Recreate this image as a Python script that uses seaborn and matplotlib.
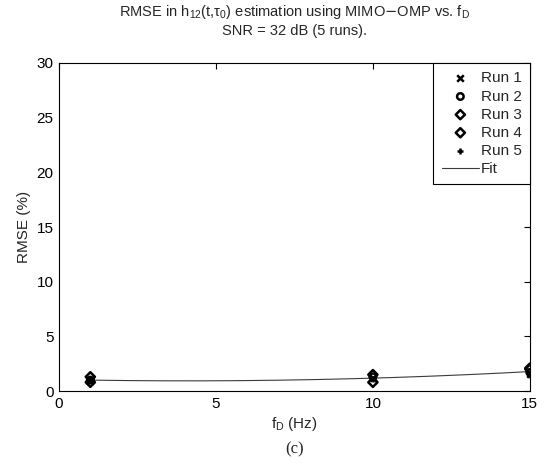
import numpy as np
import pandas as pd
import matplotlib
matplotlib.use("Agg")
import matplotlib.pyplot as plt
import seaborn as sns

# Doppler frequencies (Hz) and RMSE (%) per run
fd = [1, 10, 15]
run1 = [0.9, 1.2, 1.6]
run2 = [1.0, 1.3, 1.7]
run3 = [1.3, 1.5, 2.1]
run4 = [0.8, 0.8, 2.0]
run5 = [1.0, 1.1, 1.5]
runs = [run1, run2, run3, run4, run5]
run_names = ["Run 1", "Run 2", "Run 3", "Run 4", "Run 5"]
markers = ["x", "o", "D", "D", "+"]

sns.set_theme(style="white")
plt.rcParams["font.family"] = ["Liberation Sans", "DejaVu Sans"]

fig = plt.figure(figsize=(5.56, 4.70), dpi=100)
ax = fig.add_axes([0.106, 0.168, 0.847, 0.698])

for vals, name, mk in zip(runs, run_names, markers):
    df = pd.DataFrame({"fd": fd, "rmse": vals})
    if mk in ("o", "D"):
        sns.scatterplot(data=df, x="fd", y="rmse", marker=mk, s=22,
                        facecolor="none", edgecolor="black", linewidth=1.8,
                        label=name, ax=ax, zorder=3)
    else:
        sns.scatterplot(data=df, x="fd", y="rmse", marker=mk, s=22,
                        color="black", linewidth=1.8,
                        label=name, ax=ax, zorder=3)

# quadratic fit through all runs
xs = np.concatenate([fd] * len(runs))
ys = np.concatenate(runs)
coef = np.polyfit(xs, ys, 2)
xfit = np.linspace(1, 15, 200)
fit_df = pd.DataFrame({"fd": xfit, "rmse": np.polyval(coef, xfit)})
sns.lineplot(data=fit_df, x="fd", y="rmse", color="#3a3a3a", linewidth=0.8,
             label="Fit", ax=ax, zorder=2)

ax.set_xlim(0, 15)
ax.set_ylim(0, 30)
ax.set_xticks([0, 5, 10, 15])
ax.set_yticks([0, 5, 10, 15, 20, 25, 30])
ax.tick_params(direction="in", length=4, width=0.8, top=True, right=True,
               labelsize=11, colors="black", pad=4)
for sp in ax.spines.values():
    sp.set_color("black")
    sp.set_linewidth(0.8)

ax.set_xlabel(r"f$_\mathregular{D}$ (Hz)", fontsize=11, labelpad=3)
ax.set_ylabel("RMSE (%)", fontsize=11, labelpad=4)
ax.set_title(r"RMSE in h$_\mathregular{12}$(t,$\mathregular{\tau}_\mathregular{0}$) estimation using MIMO$-$OMP vs. f$_\mathregular{D}$"
             "\nSNR = 32 dB (5 runs).", fontsize=10.5, linespacing=1.25, pad=20)

leg = ax.legend(loc="upper right", fontsize=11, frameon=True, fancybox=False,
                edgecolor="black", borderaxespad=0.0, handlelength=2.45,
                labelspacing=0.27, borderpad=0.55, handletextpad=0.1,
                framealpha=1)
leg.get_frame().set_linewidth(0.8)

fig.text(0.53, 0.035, "(c)", fontsize=12, ha="center",
         family=["Liberation Serif", "DejaVu Serif"])

fig.savefig("out.png", dpi=100, facecolor="white")
